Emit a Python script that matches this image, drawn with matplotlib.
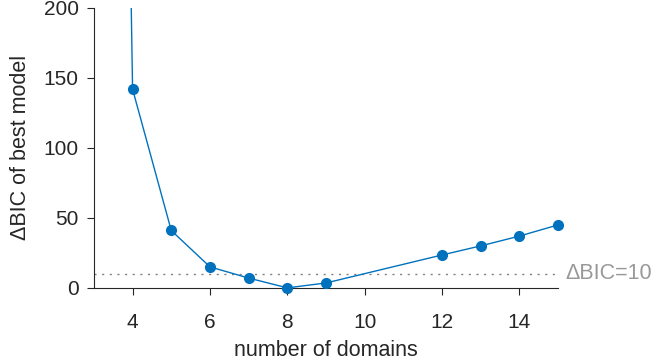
import matplotlib
matplotlib.use("Agg")
import matplotlib.pyplot as plt
import numpy as np

plt.rcParams["font.family"] = ["Liberation Sans", "DejaVu Sans"]

# best-model delta BIC per number of domains
n_domains = [3, 4, 5, 6, 7, 8, 9, 12, 13, 14, 15]
delta_bic = [1850, 142, 41, 15, 7, 0, 3.5, 23.5, 30, 37, 45]
threshold = 10
xticks = [4, 6, 8, 10, 12, 14]
yticks = [0, 50, 100, 150, 200]

BLUE = "#0072BD"
GRAY = "#999999"
INK = "#262626"

fig = plt.figure(figsize=(6.52, 3.63), dpi=100)
ax = fig.add_axes([0.144, 0.207, 0.712, 0.771])
ax.set_xlim(3, 15)
ax.set_ylim(0, 200)

ax.axhline(threshold, color="#808080", ls=(0, (1.5, 4)), lw=1.0)
# line is clipped at the top, markers are drawn whole at the axes edges
ax.plot(n_domains, delta_bic, "-", color=BLUE, lw=1.0)
x = np.array(n_domains)
y = np.array(delta_bic)
inside = y <= ax.get_ylim()[1]
ax.plot(x[inside], y[inside], "o", color=BLUE, ms=7, clip_on=False,
        zorder=3)
ax.text(15.2, threshold, f"\u0394BIC={threshold}", color=GRAY,
        fontsize=15.5, va="center", ha="left")

ax.set_xticks(xticks)
ax.set_yticks(yticks)
ax.spines["top"].set_visible(False)
ax.spines["right"].set_visible(False)
for s in ("left", "bottom"):
    ax.spines[s].set_color(INK)
ax.tick_params(labelsize=15, colors=INK, length=5, width=0.8)
ax.tick_params(axis="x", pad=13)
ax.tick_params(axis="y", pad=6)
ax.set_xlabel("number of domains", fontsize=15.5, color=INK, labelpad=6)
ax.set_ylabel("\u0394BIC of best model", fontsize=15.5, color=INK,
              labelpad=9)

fig.savefig("out.png", dpi=100)
